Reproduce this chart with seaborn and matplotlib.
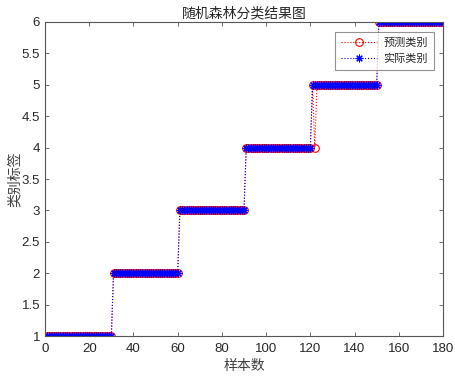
import matplotlib
matplotlib.use('Agg')
import matplotlib.pyplot as plt
import seaborn as sns
import numpy as np
import pandas as pd

# 样本编号与类别
samples = list(range(1, 181))
actual = [1] * 30 + [2] * 30 + [3] * 30 + [4] * 30 + [5] * 30 + [6] * 30
predicted = list(actual)
predicted[121] = 4  # 第122个样本被错分

df = pd.DataFrame({'样本': samples, '预测': predicted, '实际': actual})

sns.set_style('white')
plt.rcParams['font.family'] = ['Liberation Sans', 'Noto Sans CJK SC', 'DejaVu Sans']
plt.rcParams['axes.unicode_minus'] = False

fig = plt.figure(figsize=(4.56, 3.78), dpi=100)
ax = fig.add_axes([0.0987, 0.111, 0.8728, 0.8308])

sns.lineplot(data=df, x='样本', y='预测', ax=ax, color='red', linestyle=':',
             linewidth=0.8, marker='o', markersize=5.5, markerfacecolor='none',
             markeredgecolor='red', markeredgewidth=0.8, label='预测类别')
sns.lineplot(data=df, x='样本', y='实际', ax=ax, color='blue', linestyle=':',
             linewidth=0.8, marker=(8, 2, 0), markersize=5.5,
             markeredgecolor='blue', markeredgewidth=0.8, label='实际类别')

ax.set_xlim(0, 180)
ax.set_ylim(1, 6)
ax.set_xticks(np.arange(0, 181, 20))
ax.set_yticks(np.arange(1, 6.01, 0.5))
ax.set_yticklabels(['1', '1.5', '2', '2.5', '3', '3.5', '4', '4.5', '5', '5.5', '6'])
ax.tick_params(direction='in', length=3, width=0.6, color='#555555',
               labelsize=9.5, labelcolor='#262626', top=True, right=True,
               bottom=True, left=True)
ax.tick_params(axis='x', pad=5)
for s in ax.spines.values():
    s.set_visible(True)
    s.set_color('#555555')
    s.set_linewidth(0.8)

ax.set_title('随机森林分类结果图', fontsize=10, color='#262626', pad=3,
             family=['Noto Sans CJK SC'])
ax.set_xlabel('样本数', fontsize=10, color='#404040', labelpad=3,
              family=['Noto Sans CJK SC'])
ax.set_ylabel('类别标签', fontsize=10, color='#404040', labelpad=0,
              family=['Noto Sans CJK SC'])

leg = ax.legend(loc='upper right', bbox_to_anchor=(0.977, 0.968),
                frameon=True, fancybox=False, edgecolor='#777777',
                borderpad=0.55, handlelength=3.2, labelspacing=0.45,
                handletextpad=0.6, borderaxespad=0,
                prop={'family': ['Noto Sans CJK SC'], 'size': 8})
leg.get_frame().set_linewidth(0.8)

fig.savefig('out.png', dpi=100, facecolor='white')
